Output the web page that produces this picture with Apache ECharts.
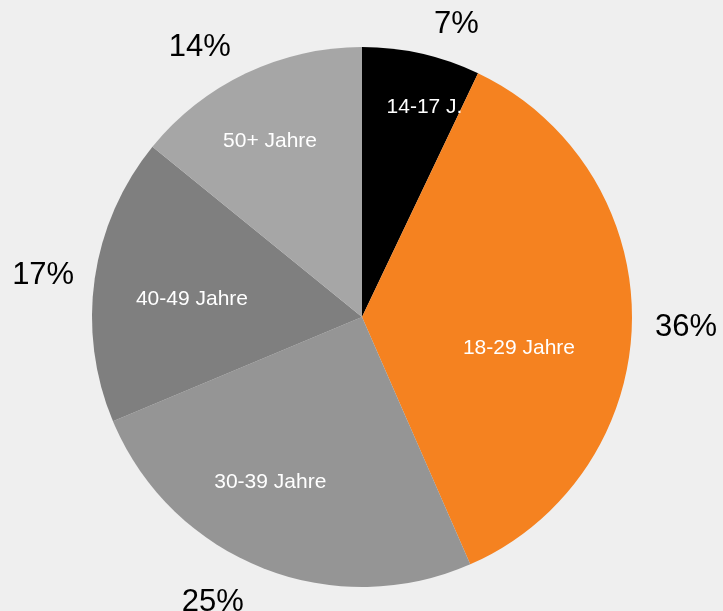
<!DOCTYPE html>
<html>
<head>
<meta charset="utf-8">
<script src="https://cdn.jsdelivr.net/npm/echarts@6/dist/echarts.min.js"></script>
<style>
  html, body { margin: 0; padding: 0; background: #efefef; }
  #main { width: 723px; height: 611px; }
</style>
</head>
<body>
<div id="main"></div>
<script>
  // Altersgruppen und Anteile (%)
  const categories = ['14-17 J.', '18-29 Jahre', '30-39 Jahre', '40-49 Jahre', '50+ Jahre']
  const shares = [7, 36, 25, 17, 14]
  const colors = ['#000000', '#f58220', '#959595', '#7f7f7f', '#a6a6a6']

  // kleine Verschiebungen der Beschriftung (wie im Original "beste Anpassung")
  const innerShift = [[20, -22], [-36, 28], [-20, -14], [21, 10], [-9, -2]]
  const outerShift = [[26, 10], [14, 6], [-34, -2], [-12, 3], [-29, 10]]

  const center = [362, 317]
  const font = 'Liberation Sans, Arial, sans-serif'

  const chart = echarts.init(document.getElementById('main'))
  chart.setOption({
    backgroundColor: '#efefef',
    animation: false,
    series: [
      {
        // die Torte selbst
        type: 'pie',
        center: center,
        radius: [0, 270],
        startAngle: 90,
        clockwise: true,
        silent: true,
        data: categories.map((name, i) => ({
          name: name, value: shares[i], itemStyle: { color: colors[i] }
        })),
        label: { show: false },
        labelLine: { show: false }
      },
      {
        // Namen innen
        type: 'pie',
        center: center,
        radius: [148, 232],
        startAngle: 90,
        silent: true,
        data: categories.map((name, i) => ({
          name: name, value: shares[i], label: { offset: innerShift[i] }
        })),
        itemStyle: { color: 'transparent' },
        label: {
          show: true,
          position: 'inside',
          formatter: '{b}',
          color: '#ffffff',
          fontSize: 21,
          fontFamily: font
        },
        labelLine: { show: false }
      },
      {
        // Prozente aussen
        type: 'pie',
        center: center,
        radius: [292, 322],
        startAngle: 90,
        silent: true,
        data: categories.map((name, i) => ({
          name: name, value: shares[i], label: { offset: outerShift[i] }
        })),
        itemStyle: { color: 'transparent' },
        label: {
          show: true,
          position: 'inside',
          formatter: '{c}%',
          color: '#000000',
          fontSize: 31,
          fontFamily: font
        },
        labelLine: { show: false }
      }
    ]
  })
</script>
</body>
</html>
